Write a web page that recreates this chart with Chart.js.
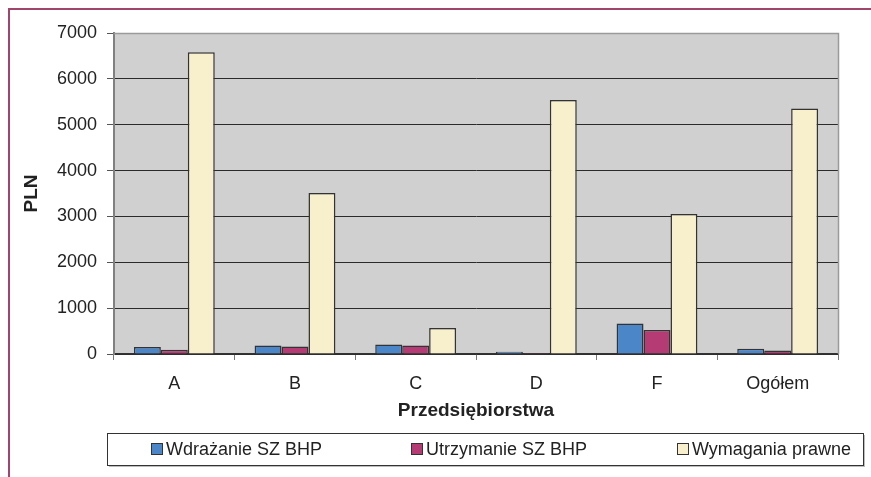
<!DOCTYPE html>
<html>
<head>
<meta charset="utf-8">
<script src="https://cdn.jsdelivr.net/npm/chart.js@4.4.1/dist/chart.umd.min.js"></script>
<style>
    html, body { margin: 0; padding: 0; background: #fff; }
    #wrap { position: relative; width: 871px; height: 477px; }
    #frame {
        position: absolute; left: 8px; top: 8px; right: 0; bottom: 0;
        border-top: 2px solid #a0466a; border-left: 2px solid #a0466a;
    }
    canvas { position: absolute; left: 0; top: 0; }
</style>
</head>
<body>
<div id="wrap">
    <div id="frame"></div>
    <canvas id="chart" width="871" height="477"></canvas>
</div>
<script>
const categories = ['A', 'B', 'C', 'D', 'F', 'Ogółem'];
const wdrazanie = [150, 185, 207, 50, 665, 115];
const utrzymanie = [90, 165, 185, 22, 523, 74];
const wymagania = [6580, 3510, 567, 5540, 3053, 5355];
const seriesNames = ['Wdrażanie SZ BHP', 'Utrzymanie SZ BHP', 'Wymagania prawne'];
const seriesColors = ['#4a86c8', '#b43b74', '#f8f0cc'];

const FONT = '"Liberation Sans", Arial, sans-serif';

const plotBg = {
    id: 'plotBg',
    beforeDraw(chart) {
        const a = chart.chartArea;
        const ctx = chart.ctx;
        ctx.save();
        ctx.fillStyle = '#d0d0d0';
        ctx.fillRect(a.left, a.top, a.right - a.left, a.bottom - a.top);
        ctx.restore();
    },
    afterDraw(chart) {
        const a = chart.chartArea;
        const ctx = chart.ctx;
        ctx.save();
        ctx.strokeStyle = '#9a9a9a';
        ctx.lineWidth = 1.5;
        ctx.beginPath();
        ctx.moveTo(a.left, a.top + 0.5);
        ctx.lineTo(a.right + 0.5, a.top + 0.5);
        ctx.lineTo(a.right + 0.5, a.bottom);
        ctx.stroke();

        // legend box
        const bx = 107, by = 433, bw = 756, bh = 32;
        ctx.fillStyle = '#bdbdbd';
        ctx.fillRect(bx + 2, by + 2, bw, bh);
        ctx.fillStyle = '#fff';
        ctx.fillRect(bx, by, bw, bh);
        ctx.strokeStyle = '#333';
        ctx.lineWidth = 1;
        ctx.strokeRect(bx + 0.5, by + 0.5, bw, bh);

        const itemX = [151, 411, 677];
        ctx.font = '18px ' + FONT;
        ctx.textBaseline = 'middle';
        chart.data.datasets.forEach((ds, i) => {
            const x = itemX[i], y = by + bh / 2;
            ctx.fillStyle = ds.backgroundColor;
            ctx.fillRect(x, y - 6, 12, 12);
            ctx.strokeStyle = '#333';
            ctx.strokeRect(x + 0.5, y - 5.5, 11, 11);
            ctx.fillStyle = '#222';
            ctx.fillText(ds.label, x + 15, y + 1);
        });
        ctx.restore();
    }
};

new Chart(document.getElementById('chart'), {
    type: 'bar',
    data: {
        labels: categories,
        datasets: [wdrazanie, utrzymanie, wymagania].map((d, i) => ({
            label: seriesNames[i],
            data: d,
            backgroundColor: seriesColors[i],
            borderColor: '#333',
            borderWidth: 1.5,
            categoryPercentage: 0.67,
            barPercentage: 1.0
        }))
    },
    options: {
        responsive: false,
        animation: false,
        devicePixelRatio: 1,
        layout: { padding: { left: 20, right: 33, top: 33, bottom: 52 } },
        plugins: {
            legend: { display: false },
            tooltip: { enabled: false }
        },
        scales: {
            x: {
                grid: { drawOnChartArea: false, tickLength: 6, color: '#777', offset: true },
                border: { color: '#333', width: 1.5 },
                ticks: { color: '#222', font: { family: FONT, size: 18 }, padding: 13 },
                title: {
                    display: true, text: 'Przedsiębiorstwa', color: '#222',
                    font: { family: FONT, size: 19, weight: 'bold' }, padding: { top: 4, bottom: 3 }
                },
                afterFit(s) { s.height = 71; }
            },
            y: {
                min: 0, max: 7000,
                ticks: {
                    stepSize: 1000, color: '#222', font: { family: FONT, size: 18 }, padding: 10,
                    callback: v => String(v)
                },
                grid: { color: '#2a2a2a', lineWidth: 1, tickLength: 7, tickColor: '#555' },
                border: { color: '#808080', width: 2 },
                title: {
                    display: true, text: 'PLN', color: '#222',
                    font: { family: FONT, size: 19, weight: 'bold' }, padding: { top: 0, bottom: 0 }
                },
                afterFit(s) { s.width = 94; }
            }
        }
    },
    plugins: [plotBg]
});
</script>
</body>
</html>
